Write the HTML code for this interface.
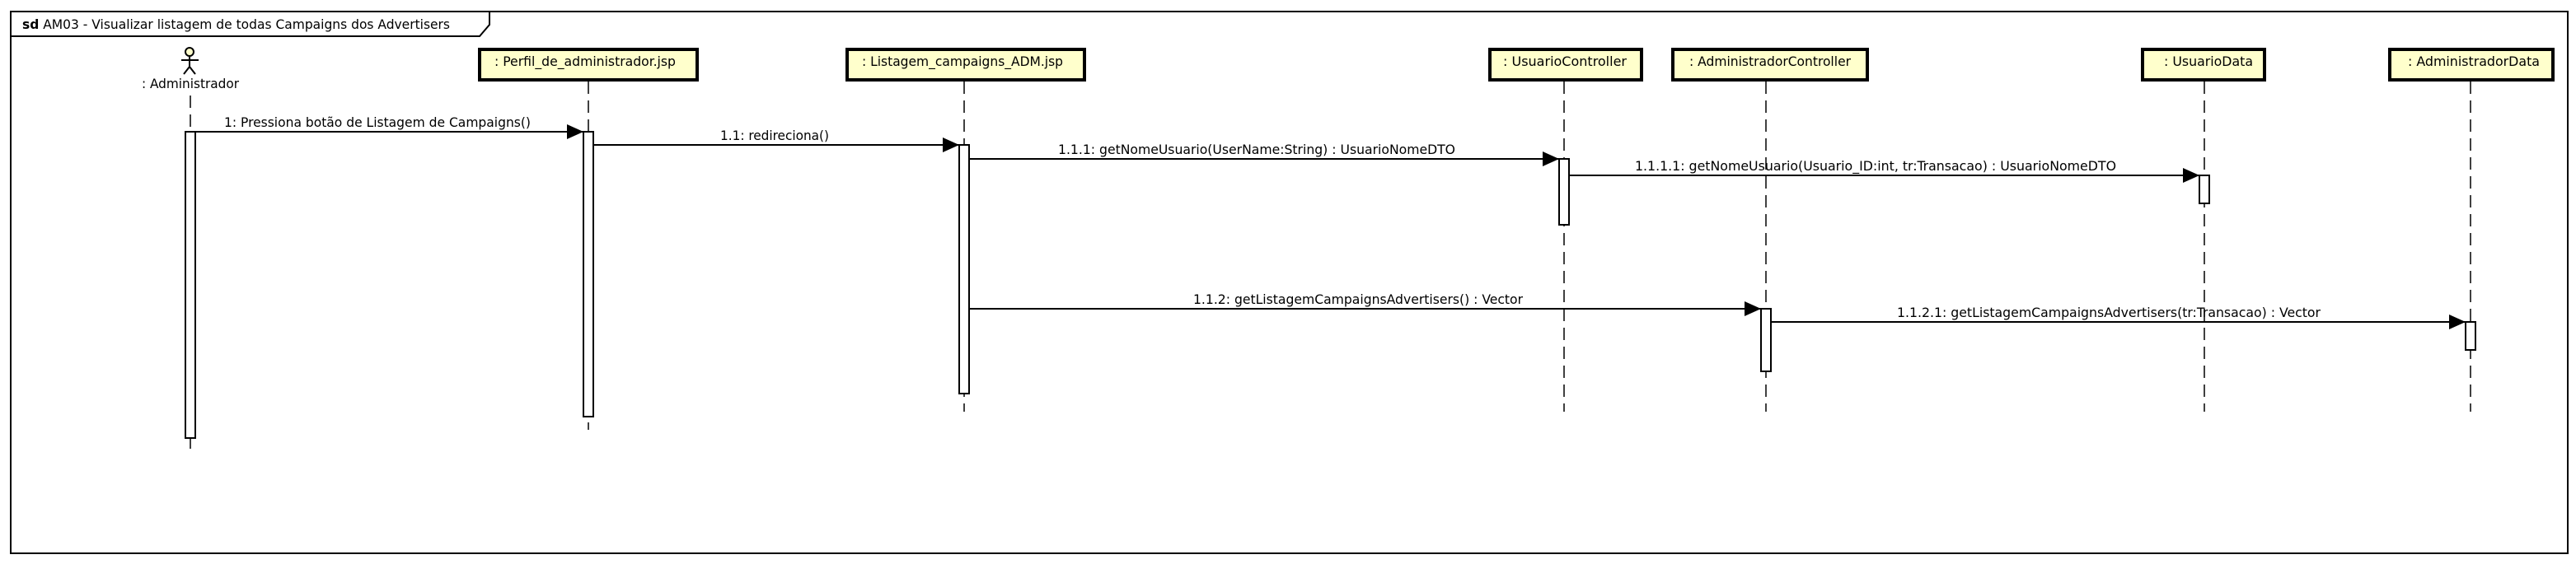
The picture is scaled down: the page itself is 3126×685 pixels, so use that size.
<!DOCTYPE html>
<html><head><meta charset="utf-8"><style>
html,body{margin:0;padding:0;background:#fff;}
svg{display:block;}
text{font-family:"DejaVu Sans Condensed","DejaVu Sans","Liberation Sans",sans-serif;font-stretch:condensed;font-size:16px;fill:#000;}
</style></head><body>
<svg width="3126" height="685" viewBox="0 0 3126 685" xmlns="http://www.w3.org/2000/svg">
<defs>
<marker id="ah" markerWidth="20" markerHeight="18" refX="20" refY="9" orient="auto" markerUnits="userSpaceOnUse">
<path d="M0,0 L20,9 L0,18 Z" fill="#000"/>
</marker>
</defs>
<rect x="13" y="14" width="3103" height="658" fill="#fff" stroke="#000" stroke-width="2"/>
<path d="M13,44 L582,44 L594,30 L594,14" fill="none" stroke="#000" stroke-width="2"/>
<text x="27" y="35" textLength="519" lengthAdjust="spacingAndGlyphs"><tspan font-weight="bold">sd</tspan> AM03 - Visualizar listagem de todas Campaigns dos Advertisers</text>

<g stroke="#000" stroke-width="1.5" stroke-dasharray="15,8">
<line x1="231" y1="116" x2="231" y2="552"/>
<line x1="714" y1="99" x2="714" y2="522"/>
<line x1="1170" y1="99" x2="1170" y2="500"/>
<line x1="1898" y1="99" x2="1898" y2="500"/>
<line x1="2143" y1="99" x2="2143" y2="500"/>
<line x1="2675" y1="99" x2="2675" y2="500"/>
<line x1="2998" y1="99" x2="2998" y2="500"/>
</g>

<circle cx="230" cy="63" r="5" fill="#ffffcc" stroke="#000" stroke-width="2"/>
<g stroke="#000" stroke-width="2">
<line x1="230" y1="68" x2="230" y2="81"/>
<line x1="220" y1="73" x2="241" y2="73"/>
<line x1="230" y1="81" x2="223" y2="90"/>
<line x1="230" y1="81" x2="237" y2="90"/>
</g>
<text x="172" y="107" textLength="118" lengthAdjust="spacingAndGlyphs">: Administrador</text>

<g fill="#ffffcc" stroke="#000" stroke-width="4">
<rect x="582" y="60" width="264" height="37"/>
<rect x="1028" y="60" width="288" height="37"/>
<rect x="1808" y="60" width="184" height="37"/>
<rect x="2030" y="60" width="236" height="37"/>
<rect x="2600" y="60" width="148" height="37"/>
<rect x="2900" y="60" width="198" height="37"/>
</g>
<text x="600" y="80" textLength="220" lengthAdjust="spacingAndGlyphs">: Perfil_de_administrador.jsp</text>
<text x="1046" y="80" textLength="244" lengthAdjust="spacingAndGlyphs">: Listagem_campaigns_ADM.jsp</text>
<text x="1824" y="80" textLength="150" lengthAdjust="spacingAndGlyphs">: UsuarioController</text>
<text x="2050" y="80" textLength="196" lengthAdjust="spacingAndGlyphs">: AdministradorController</text>
<text x="2626" y="80" textLength="108" lengthAdjust="spacingAndGlyphs">: UsuarioData</text>
<text x="2922" y="80" textLength="160" lengthAdjust="spacingAndGlyphs">: AdministradorData</text>

<g fill="#fff" stroke="#000" stroke-width="2">
<rect x="225" y="160" width="12" height="372"/>
<rect x="708" y="160" width="12" height="346"/>
<rect x="1164" y="176" width="12" height="302"/>
<rect x="1892" y="193" width="12" height="80"/>
<rect x="2669" y="213" width="12" height="34"/>
<rect x="2137" y="375" width="12" height="76"/>
<rect x="2992" y="391" width="12" height="34"/>
</g>

<g stroke="#000" stroke-width="2" marker-end="url(#ah)">
<line x1="237" y1="160" x2="708" y2="160"/>
<line x1="720" y1="176" x2="1164" y2="176"/>
<line x1="1176" y1="193" x2="1892" y2="193"/>
<line x1="1904" y1="213" x2="2669" y2="213"/>
<line x1="1176" y1="375" x2="2137" y2="375"/>
<line x1="2149" y1="391" x2="2992" y2="391"/>
</g>
<text x="272" y="154" textLength="372" lengthAdjust="spacingAndGlyphs">1: Pressiona botão de Listagem de Campaigns()</text>
<text x="874" y="170" textLength="132" lengthAdjust="spacingAndGlyphs">1.1: redireciona()</text>
<text x="1284" y="187" textLength="482" lengthAdjust="spacingAndGlyphs">1.1.1: getNomeUsuario(UserName:String) : UsuarioNomeDTO</text>
<text x="1984" y="207" textLength="584" lengthAdjust="spacingAndGlyphs">1.1.1.1: getNomeUsuario(Usuario_ID:int, tr:Transacao) : UsuarioNomeDTO</text>
<text x="1448" y="369" textLength="400" lengthAdjust="spacingAndGlyphs">1.1.2: getListagemCampaignsAdvertisers() : Vector</text>
<text x="2302" y="385" textLength="514" lengthAdjust="spacingAndGlyphs">1.1.2.1: getListagemCampaignsAdvertisers(tr:Transacao) : Vector</text>
</svg>
</body></html>
